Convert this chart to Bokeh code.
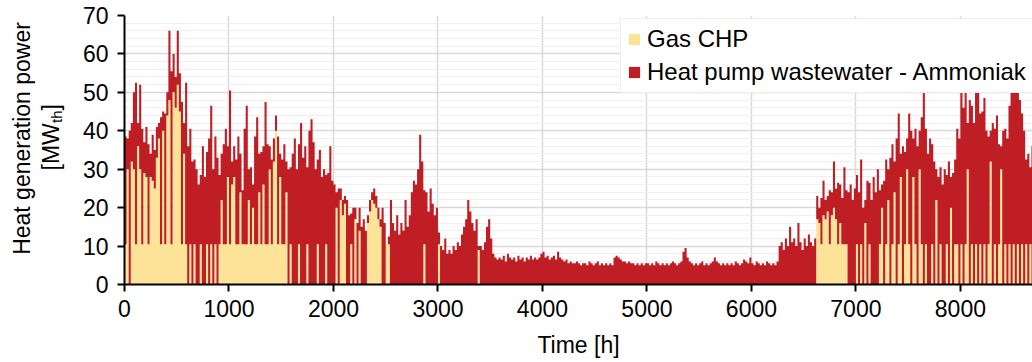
import numpy as np
from bokeh.plotting import figure
from bokeh.layouts import row
from bokeh.models import Range1d, Legend, LegendItem, FixedTicker
from bokeh.core.properties import value
from bokeh.embed import file_html
from bokeh.resources import INLINE

# Hourly heat generation, aggregated into 20 h blocks (MW_th per block)
BIN_HOURS = 20

gas_chp = [
    # 0 - 1000 h
    10.5, 30, 0, 32, 30, 10.5, 36, 30, 10.5, 29,
    28, 10.5, 28, 27, 25, 33, 38, 10.5, 40, 10.5,
    44, 48, 10.5, 50, 46, 52, 45, 10.5, 34, 10.5,
    0, 10.5, 0, 10.5, 0, 0, 10.5, 0, 0, 10.5,
    0, 10.5, 0, 10.5, 0, 10.5, 22, 10.5, 10.5, 28,
    # 1000 - 2000 h
    10.5, 26, 28, 10.5, 10.5, 24, 10.5, 10.5, 10.5, 22,
    10.5, 20, 10.5, 10.5, 24, 10.5, 26, 10.5, 10.5, 30,
    10.5, 32, 40, 10.5, 28, 10.5, 10.5, 24, 0, 10.5,
    0, 0, 0, 10.5, 0, 0, 0, 10.5, 0, 0,
    0, 0, 10.5, 0, 0, 0, 10.5, 0, 0, 0,
    # 2000 - 3000 h
    0, 20, 0, 22, 18, 21, 0, 0, 10.5, 0,
    17, 0, 14, 0, 0, 0, 16, 19, 22, 21,
    20, 17, 15, 0, 0, 10.5, 10.5, 0, 0, 0,
    0, 0, 0, 0, 0, 0, 0, 0, 0, 0,
    0, 0, 0, 10.5, 0, 0, 0, 0, 0, 0,
    # 3000 - 4000 h
    10.5, 0, 0, 0, 0, 0, 0, 0, 0, 0,
    0, 0, 0, 0, 0, 0, 0, 0, 0, 9,
    0, 0, 0, 0, 0, 0, 0, 0, 0, 0,
    0, 0, 0, 0, 0, 0, 0, 0, 0, 0,
    0, 0, 0, 0, 0, 0, 0, 0, 0, 0,
    # 4000 - 5000 h
    0, 0, 0, 0, 0, 0, 0, 0, 0, 0,
    0, 0, 0, 0, 0, 0, 0, 0, 0, 0,
    0, 0, 0, 0, 0, 0, 0, 0, 0, 0,
    0, 0, 0, 0, 0, 0, 0, 0, 0, 0,
    0, 0, 0, 0, 0, 0, 0, 0, 0, 0,
    # 5000 - 6000 h
    0, 0, 0, 0, 0, 0, 0, 0, 0, 0,
    0, 0, 0, 0, 0, 0, 0, 0, 0, 0,
    0, 0, 0, 0, 0, 0, 0, 0, 0, 0,
    0, 0, 0, 0, 0, 0, 0, 0, 0, 0,
    0, 0, 0, 0, 0, 0, 0, 0, 0, 0,
    # 6000 - 7000 h
    0, 0, 0, 0, 0, 0, 0, 0, 0, 0,
    0, 0, 0, 0, 0, 0, 0, 0, 0, 0,
    0, 0, 0, 0, 0, 0, 0, 0, 0, 0,
    0, 17, 16, 10.5, 18, 17, 19, 10.5, 18, 20,
    17, 10.5, 16, 10.5, 10.5, 10.5, 0, 0, 0, 0,
    # 7000 - 8000 h
    10.5, 0, 10.5, 0, 16, 0, 10.5, 0, 0, 0,
    0, 10.5, 20, 0, 10.5, 22, 0, 10.5, 24, 0,
    10.5, 28, 0, 10.5, 30, 10.5, 0, 28, 10.5, 0,
    30, 10.5, 0, 10.5, 0, 0, 10.5, 0, 22, 0,
    10.5, 0, 0, 10.5, 0, 20, 0, 10.5, 10.5, 0,
    # 8000 - 8760 h
    10.5, 0, 10.5, 30, 0, 10.5, 0, 10.5, 0, 10.5,
    0, 10.5, 0, 10.5, 32, 0, 10.5, 0, 10.5, 30,
    0, 10.5, 0, 10.5, 0, 10.5, 0, 10.5, 0, 10.5,
    0, 10.5, 0, 10.5, 0, 0, 10.5, 0,
]

heat_pump = [
    # 0 - 1000 h
    28, 8, 40, 10, 20, 42, 6, 22, 30, 8,
    13, 26, 6, 12, 10, 8, 4, 33, 5, 34,
    6, 18, 45, 10, 8, 14, 10, 37, 8, 42,
    36, 30, 32, 22, 30, 26, 18, 36, 28, 24,
    38, 36, 30, 28, 33, 18, 12, 26, 30, 8,
    # 1000 - 2000 h
    40, 6, 8, 22, 28, 10, 14, 30, 36, 8,
    20, 6, 28, 33, 10, 24, 10, 37, 26, 6,
    22, 6, 4, 28, 6, 22, 26, 8, 30, 20,
    34, 38, 30, 26, 42, 33, 36, 20, 40, 43,
    37, 30, 22, 35, 28, 30, 18, 29, 36, 27,
    # 2000 - 3000 h
    26, 4, 25, 3, 4, 2, 22, 18, 8, 20,
    3, 16, 6, 15, 17, 14, 2, 3, 2, 4,
    3, 3, 2, 20, 16, 0, 2, 22, 16, 14,
    18, 13, 16, 14, 22, 15, 18, 24, 27, 26,
    30, 39, 32, 14, 24, 19, 25, 21, 18, 20,
    # 3000 - 4000 h
    3, 10, 9, 12, 8, 9, 8, 10, 9, 11,
    10, 13, 15, 17, 22, 19, 16, 14, 17, 1,
    10, 9, 11, 15, 17, 12, 8, 7, 6.5, 7,
    6.5, 7.5, 6, 8, 7, 6.5, 7, 6, 7.5, 6.5,
    7, 6, 7, 6.5, 7.5, 6.5, 7, 6.5, 7, 8,
    # 4000 - 5000 h
    8.5, 7, 7.5, 6.5, 7, 7.5, 6.5, 8.5, 7, 6.5,
    6, 6.5, 5.5, 6, 5.5, 5.5, 6, 5.5, 5, 5.5,
    5.5, 5, 6, 5.5, 5, 5.5, 6, 5, 5.5, 5,
    5.5, 5, 5.5, 5, 7, 7.5, 7, 6.5, 6, 6,
    5.5, 6, 5.5, 5.5, 5, 5.5, 5, 5.5, 5, 5.5,
    # 5000 - 6000 h
    5.5, 5, 5.5, 5, 6, 5.5, 5, 5.5, 5, 5.5,
    5, 5.5, 6, 5.5, 5, 5.5, 6, 8.5, 9.5, 7,
    6, 5.5, 5, 5.5, 5, 5.5, 6, 5, 5.5, 5,
    5.5, 6, 7, 6, 5.5, 5, 5.5, 5, 5.5, 5,
    5.5, 5, 6, 5.5, 5, 5.5, 6.5, 6, 5.5, 7,
    # 6000 - 7000 h
    5.5, 5, 6, 5.5, 5, 5.5, 5, 6, 5.5, 5,
    5.5, 5, 6, 10, 11, 9, 12, 10, 15, 11,
    12, 10, 16, 11, 9, 12, 10, 13, 11, 10,
    12, 6, 4, 12, 9, 5, 4, 14, 6, 12,
    8, 16, 10, 12, 20, 14, 24, 26, 22, 25,
    # 7000 - 8000 h
    18, 24, 22, 20, 6, 27, 16, 22, 28, 24,
    30, 14, 6, 27, 22, 8, 33, 26, 8, 38,
    34, 6, 36, 24, 8, 34, 40, 10, 30, 36,
    10, 33, 51, 30, 34, 38, 26, 32, 8, 28,
    20, 26, 30, 18, 32, 8, 29, 22, 30, 38,
    # 8000 - 8760 h
    40, 46, 44, 12, 48, 36, 42, 42, 50, 34,
    45, 38, 40, 28, 8, 42, 30, 44, 26, 6,
    40, 30, 38, 36, 50, 44, 52, 42, 48, 34,
    40, 22, 34, 20, 36, 30, 20, 28,
]

x_ticks = [0, 1000, 2000, 3000, 4000, 5000, 6000, 7000, 8000]
y_ticks = [0, 10, 20, 30, 40, 50, 60, 70]
y_minor = [v for v in range(0, 71, 2) if v % 10]

YELLOW = "#FCE397"
RED = "#BE1E24"
FONT = "Liberation Sans"
FS = "23px"

W, H = 1032, 362
TITLE_W = 70                     # strip holding the rotated y title
LEFT, TOP, BOTTOM = 124, 15, 78  # frame offsets on the full canvas

# step outlines of the stacked areas
n = len(gas_chp)
edges = np.arange(n + 1) * BIN_HOURS
xs = np.repeat(edges, 2)[1:-1]
chp = np.repeat(np.asarray(gas_chp, dtype=float), 2)
total = chp + np.repeat(np.asarray(heat_pump, dtype=float), 2)
base = np.zeros_like(chp)

p = figure(width=W - TITLE_W, height=H, output_backend="svg", toolbar_location=None,
           x_range=Range1d(0, 8690), y_range=Range1d(0, 70),
           min_border_left=LEFT - TITLE_W, min_border_right=0, min_border_top=TOP,
           min_border_bottom=BOTTOM, background_fill_color="white",
           border_fill_color="white", outline_line_color=None)

r_chp = p.varea(x=xs, y1=base, y2=chp, fill_color=YELLOW)
r_hp = p.varea(x=xs, y1=chp, y2=total, fill_color=RED)

# axes
p.xaxis.ticker = FixedTicker(ticks=x_ticks)
p.yaxis.ticker = FixedTicker(ticks=y_ticks, minor_ticks=y_minor)
for ax in (p.xaxis[0], p.yaxis[0]):
    ax.axis_line_color = "black"
    ax.axis_line_width = 2
    ax.major_tick_line_color = "black"
    ax.major_tick_line_width = 2
    ax.major_tick_in = 0
    ax.major_tick_out = 7
    ax.minor_tick_line_color = None
    ax.major_label_text_font = FONT
    ax.major_label_text_font_size = FS
    ax.major_label_text_color = "black"
    ax.axis_label_text_font = FONT
    ax.axis_label_text_font_size = FS
    ax.axis_label_text_font_style = "normal"
    ax.axis_label_text_color = "black"
p.xaxis.major_label_standoff = 8
p.xaxis.axis_label = "Time [h]"
p.xaxis.axis_label_standoff = 12
p.yaxis.major_label_standoff = 9
p.yaxis.axis_label = None

# grid
p.xgrid.ticker = FixedTicker(ticks=x_ticks)
p.ygrid.ticker = FixedTicker(ticks=y_ticks, minor_ticks=y_minor)
p.xgrid.grid_line_color = "#d9d9d9"
p.xgrid.grid_line_width = 1.5
p.ygrid.grid_line_color = "#d9d9d9"
p.ygrid.grid_line_width = 1.5
p.ygrid.minor_grid_line_color = "#efefef"
p.ygrid.minor_grid_line_width = 1

legend = Legend(items=[LegendItem(label="Gas CHP", renderers=[r_chp]),
                       LegendItem(label="Heat pump wastewater - Ammoniak", renderers=[r_hp])],
                location=(620 - LEFT, H - BOTTOM - 93), orientation="vertical",
                label_text_font=FONT, label_text_font_size="24px", label_text_color="black",
                glyph_width=14, glyph_height=14, label_standoff=6,
                padding=6, spacing=5, margin=0,
                border_line_color="#dedede", border_line_width=1,
                background_fill_color="white", background_fill_alpha=1.0)
p.add_layout(legend)

# y title strip; the row lines its frame up with the chart frame, so its
# y range spans the same canvas rows (pixel row r sits at y = H - r)
t = figure(width=TITLE_W, height=H, output_backend="svg", toolbar_location=None,
           x_range=Range1d(0, TITLE_W), y_range=Range1d(BOTTOM, H - TOP),
           x_axis_location=None, y_axis_location=None,
           min_border=0, outline_line_color=None, border_fill_color="white",
           background_fill_color="white")
t.grid.visible = False
common = dict(angle=np.pi / 2, text_font=value(FONT), text_color="black",
              text_baseline="middle")
t.text(x=[21], y=[H - 138], text=["Heat generation power"], text_align="center",
       text_font_size=FS, **common)
t.text(x=[50, 50], y=[H - 170, H - 110], text=["[MW", "]"], text_align="left",
       text_font_size=FS, **common)
t.text(x=[56], y=[H - 122.5], text=["th"], text_align="left",
       text_font_size="15px", **common)

layout = row(t, p, spacing=0)
open("out.html", "w").write(file_html(layout, INLINE))
